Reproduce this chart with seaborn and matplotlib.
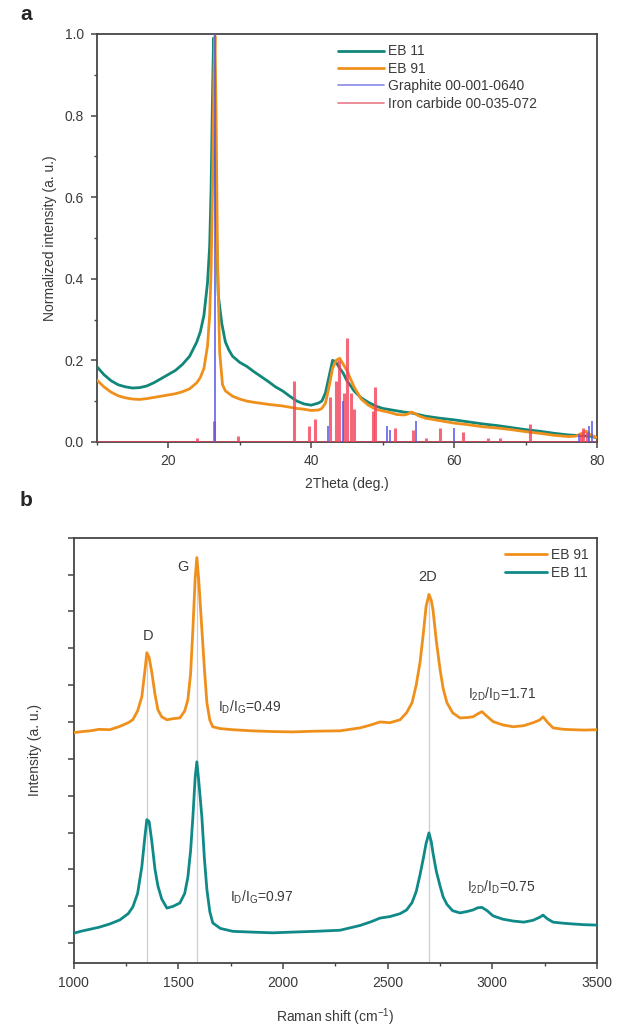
import numpy as np
import pandas as pd
import matplotlib
matplotlib.use("Agg")
import matplotlib.pyplot as plt
from matplotlib.ticker import MultipleLocator, NullFormatter, FormatStrFormatter
from matplotlib.lines import Line2D
import seaborn as sns

# ---------------- XRD (panel a) ----------------
two_theta_eb11 = [10, 11, 12, 13, 14, 15, 16, 17, 18, 19,
                  20, 21, 22, 23, 24, 24.5, 25, 25.5, 25.8, 26.0,
                  26.2, 26.35, 26.5, 26.7, 27.0, 27.5, 28, 28.5, 29, 30,
                  31, 32, 33, 34, 35, 36, 37, 38, 39, 40,
                  41, 41.5, 42, 42.5, 43, 43.5, 44, 44.5, 45, 45.5,
                  46, 47, 48, 49, 50, 51, 52, 53, 54, 55,
                  56, 58, 60, 62, 64, 66, 68, 70, 72, 74,
                  76, 78, 79, 80]
xrd_eb11 = [0.185, 0.165, 0.15, 0.14, 0.135, 0.132, 0.133, 0.137, 0.145, 0.155,
            0.165, 0.175, 0.19, 0.21, 0.245, 0.27, 0.31, 0.39, 0.48, 0.62,
            0.85, 0.99, 0.85, 0.55, 0.36, 0.29, 0.245, 0.225, 0.21, 0.195,
            0.185, 0.172, 0.16, 0.148, 0.135, 0.125, 0.112, 0.1, 0.093, 0.09,
            0.095, 0.1, 0.12, 0.16, 0.2, 0.195, 0.18, 0.168, 0.15, 0.138,
            0.125, 0.108, 0.097, 0.088, 0.082, 0.079, 0.076, 0.073, 0.071, 0.067,
            0.063, 0.058, 0.054, 0.049, 0.044, 0.04, 0.035, 0.03, 0.026, 0.021,
            0.017, 0.015, 0.014, 0.01]

two_theta_eb91 = [10, 11, 12, 13, 14, 15, 16, 17, 18, 19,
                  20, 21, 22, 23, 24, 24.5, 25, 25.5, 25.8, 26.0,
                  26.2, 26.4, 26.55, 26.7, 26.9, 27.2, 27.6, 28, 29, 30,
                  31, 32, 34, 36, 37, 38, 39, 40, 41, 41.5,
                  42, 42.5, 43, 43.5, 44, 44.5, 45, 45.5, 46, 47,
                  48, 49, 50, 51, 52, 53, 53.5, 54, 54.5, 55,
                  56, 58, 60, 62, 64, 66, 68, 70, 72, 74,
                  76, 77, 78, 78.5, 79, 80]
xrd_eb91 = [0.152, 0.135, 0.122, 0.113, 0.108, 0.105, 0.104, 0.106, 0.109, 0.112,
            0.115, 0.118, 0.123, 0.13, 0.145, 0.158, 0.18, 0.235, 0.31, 0.42,
            0.62, 0.9, 0.995, 0.8, 0.45, 0.22, 0.14, 0.125, 0.112, 0.105,
            0.1, 0.097, 0.092, 0.088, 0.085, 0.082, 0.08, 0.077, 0.078, 0.082,
            0.095, 0.135, 0.18, 0.2, 0.205, 0.19, 0.175, 0.155, 0.135, 0.105,
            0.09, 0.08, 0.076, 0.072, 0.067, 0.066, 0.068, 0.073, 0.07, 0.064,
            0.058, 0.052, 0.046, 0.042, 0.037, 0.034, 0.03, 0.025, 0.021, 0.016,
            0.013, 0.014, 0.022, 0.026, 0.018, 0.01]

# Reference patterns (stick positions and relative intensities)
graphite_pos = [26.55, 42.3, 44.5, 50.6, 51.0, 54.7, 60.0, 77.5, 78.9, 79.3]
graphite_int = [1.0, 0.04, 0.1, 0.04, 0.03, 0.05, 0.035, 0.02, 0.04, 0.05]
fe3c_pos = [24.0, 26.4, 29.8, 37.6, 39.7, 40.5, 42.6, 43.5, 43.9, 44.6,
            45.0, 45.6, 46.0, 48.6, 48.9, 51.7, 54.3, 56.0, 58.0, 61.3,
            64.8, 66.4, 70.6, 77.8, 78.1, 78.6]
fe3c_int = [0.01, 0.05, 0.015, 0.15, 0.04, 0.055, 0.11, 0.15, 0.2, 0.12,
            0.255, 0.12, 0.08, 0.075, 0.135, 0.035, 0.03, 0.01, 0.035, 0.025,
            0.01, 0.01, 0.045, 0.02, 0.035, 0.025]

xrd_labels = ["EB 11", "EB 91", "Graphite 00-001-0640", "Iron carbide 00-035-072"]

# ---------------- Raman (panel b) ----------------
raman_shift = [1000, 1040, 1080, 1120, 1172, 1220, 1260, 1282, 1305, 1325,
               1340, 1349, 1360, 1373, 1388, 1402, 1420, 1445, 1475, 1507,
               1530, 1545, 1558, 1569, 1580, 1588, 1597, 1612, 1624, 1636,
               1650, 1664, 1700, 1760, 1850, 1950, 2047, 2150, 2272, 2368,
               2420, 2463, 2510, 2559, 2590, 2616, 2636, 2654, 2670, 2683,
               2697, 2708, 2716, 2732, 2750, 2765, 2783, 2810, 2845, 2880,
               2907, 2930, 2950, 2975, 3003, 3050, 3099, 3150, 3194, 3225,
               3242, 3265, 3290, 3340, 3385, 3440, 3500]
raman_eb91 = [5.71, 5.74, 5.76, 5.80, 5.79, 5.88, 5.98, 6.06, 6.30, 6.68,
              7.40, 7.88, 7.75, 7.34, 6.75, 6.33, 6.14, 6.06, 6.09, 6.11,
              6.30, 6.60, 7.30, 8.51, 9.90, 10.46, 9.85, 8.51, 7.45, 6.52,
              6.05, 5.87, 5.82, 5.79, 5.76, 5.74, 5.73, 5.75, 5.76, 5.84,
              5.92, 6.00, 5.98, 6.06, 6.25, 6.52, 7.00, 7.61, 8.40, 9.13,
              9.46, 9.30, 9.05, 8.20, 7.42, 6.90, 6.52, 6.25, 6.11, 6.12,
              6.14, 6.22, 6.28, 6.15, 6.01, 5.92, 5.87, 5.90, 5.98, 6.05,
              6.14, 5.98, 5.84, 5.80, 5.79, 5.78, 5.79]
raman_eb11 = [0.27, 0.33, 0.38, 0.43, 0.52, 0.63, 0.80, 0.98, 1.35, 2.07,
              2.90, 3.35, 3.30, 2.75, 2.00, 1.55, 1.20, 0.95, 1.00, 1.09,
              1.35, 1.79, 2.50, 3.42, 4.50, 4.92, 4.40, 3.42, 2.30, 1.45,
              0.85, 0.55, 0.40, 0.32, 0.30, 0.28, 0.30, 0.32, 0.35, 0.48,
              0.58, 0.68, 0.72, 0.80, 0.90, 1.10, 1.40, 1.85, 2.30, 2.70,
              2.99, 2.75, 2.45, 1.95, 1.55, 1.25, 1.05, 0.88, 0.82, 0.86,
              0.90, 0.96, 0.97, 0.88, 0.74, 0.65, 0.60, 0.57, 0.62, 0.70,
              0.76, 0.65, 0.57, 0.54, 0.52, 0.50, 0.49]

band_names = ["D", "G", "2D"]
band_pos = [1349, 1588, 2697]
ratio_text_eb91 = ["I$_\\mathregular{D}$/I$_\\mathregular{G}$=0.49",
                   "I$_\\mathregular{2D}$/I$_\\mathregular{D}$=1.71"]
ratio_text_eb11 = ["I$_\\mathregular{D}$/I$_\\mathregular{G}$=0.97",
                   "I$_\\mathregular{2D}$/I$_\\mathregular{D}$=0.75"]

# ---------------- styling ----------------
sns.set_style("ticks")
plt.rcParams["font.family"] = ["Liberation Sans", "DejaVu Sans"]
plt.rcParams["mathtext.fontset"] = "custom"
plt.rcParams["mathtext.rm"] = "Liberation Sans"
plt.rcParams["mathtext.it"] = "Liberation Sans"

TEAL = "#11877a"
TEAL_R = "#108a88"
ORANGE = "#f0901c"
BLUE = "#5656ee"
RED = "#f0445a"
TXT = "#3a3a3a"
SPINE = "#454545"

fig = plt.figure(figsize=(6.2, 10.3), dpi=100)
ax1 = fig.add_axes([0.156, 0.571, 0.807, 0.396])
ax2 = fig.add_axes([0.119, 0.065, 0.844, 0.413])


def style_axes(ax):
    for sp in ax.spines.values():
        sp.set_color(SPINE)
        sp.set_linewidth(1.3)
    ax.tick_params(which="both", direction="out", color=SPINE, labelcolor=TXT,
                   labelsize=10, top=False, right=False, pad=5)
    ax.tick_params(which="major", length=4, width=1.1)
    ax.tick_params(which="minor", length=2.5, width=1.0)


# panel a: XRD patterns
df11 = pd.DataFrame({"two_theta": two_theta_eb11, "intensity": xrd_eb11})
df91 = pd.DataFrame({"two_theta": two_theta_eb91, "intensity": xrd_eb91})
sns.lineplot(data=df11, x="two_theta", y="intensity", color=TEAL, lw=2.0,
             estimator=None, ax=ax1, zorder=3)
sns.lineplot(data=df91, x="two_theta", y="intensity", color=ORANGE, lw=2.0,
             estimator=None, ax=ax1, zorder=3)
ax1.axhline(0.0, color=RED, lw=1.4, alpha=0.7, zorder=4)
ax1.vlines(fe3c_pos, 0, fe3c_int, colors=RED, lw=2.2, alpha=0.8, zorder=4)
ax1.vlines(graphite_pos, 0, graphite_int, colors=BLUE, lw=1.3, alpha=0.85, zorder=5)

ax1.set_xlim(10, 80)
ax1.set_ylim(0, 1.0)
ax1.xaxis.set_major_locator(MultipleLocator(20))
ax1.xaxis.set_minor_locator(MultipleLocator(10))
ax1.yaxis.set_major_locator(MultipleLocator(0.2))
ax1.yaxis.set_minor_locator(MultipleLocator(0.1))
ax1.yaxis.set_major_formatter(FormatStrFormatter("%.1f"))
ax1.set_xlabel("2Theta (deg.)", fontsize=10, color=TXT, labelpad=6)
ax1.set_ylabel("Normalized intensity (a. u.)", fontsize=10, color=TXT, labelpad=6)
style_axes(ax1)

handles_a = [Line2D([], [], color=TEAL, lw=2.0),
             Line2D([], [], color=ORANGE, lw=2.0),
             Line2D([], [], color="#8a8ae8", lw=1.2),
             Line2D([], [], color="#e87a88", lw=1.2)]
leg = ax1.legend(handles_a, xrd_labels, loc="upper left", bbox_to_anchor=(0.465, 0.995),
                 frameon=False, fontsize=10, handlelength=3.3, handletextpad=0.3,
                 labelspacing=0.25, borderaxespad=0.2)
for t in leg.get_texts():
    t.set_color(TXT)

# panel b: Raman spectra
dfr = pd.DataFrame({"shift": raman_shift, "EB 91": raman_eb91, "EB 11": raman_eb11})
peak91 = dict(zip(raman_shift, raman_eb91))
ax2.vlines(band_pos, -0.54, [peak91[p] for p in band_pos], colors="#c9ceda",
           lw=0.9, zorder=1)
sns.lineplot(data=dfr, x="shift", y="EB 91", color=ORANGE, lw=2.0,
             estimator=None, ax=ax2, zorder=3, label="EB 91")
sns.lineplot(data=dfr, x="shift", y="EB 11", color=TEAL_R, lw=2.0,
             estimator=None, ax=ax2, zorder=3, label="EB 11")

ax2.set_xlim(1000, 3500)
ax2.set_ylim(-0.54, 11.0)
ax2.xaxis.set_major_locator(MultipleLocator(500))
ax2.xaxis.set_minor_locator(MultipleLocator(250))
ax2.yaxis.set_major_locator(MultipleLocator(1))
ax2.yaxis.set_major_formatter(NullFormatter())
ax2.set_xlabel("Raman shift (cm$^{-1}$)", fontsize=10, color=TXT, labelpad=12)
ax2.set_ylabel("Intensity (a. u.)", fontsize=10, color=TXT, labelpad=14)
style_axes(ax2)

band_label_xy = [(1354, 8.32), (1521, 10.2), (2692, 9.92)]
for name, (bx, by) in zip(band_names, band_label_xy):
    ax2.text(bx, by, name, ha="center", va="center", fontsize=10.5, color=TXT)

ax2.text(1688, 6.39, ratio_text_eb91[0], ha="left", va="center", fontsize=10, color=TXT)
ax2.text(2883, 6.74, ratio_text_eb91[1], ha="left", va="center", fontsize=10, color=TXT)
ax2.text(1746, 1.25, ratio_text_eb11[0], ha="left", va="center", fontsize=10, color=TXT)
ax2.text(2879, 1.52, ratio_text_eb11[1], ha="left", va="center", fontsize=10, color=TXT)

leg2 = ax2.legend(loc="upper right", bbox_to_anchor=(1.0, 0.995), frameon=False,
                  fontsize=10, handlelength=3.0, handletextpad=0.3,
                  labelspacing=0.25, borderaxespad=0.2)
for t in leg2.get_texts():
    t.set_color(TXT)

fig.text(20 / 620, 1 - 15 / 1030, "a", fontsize=15, fontweight="bold", va="center")
fig.text(20 / 620, 1 - 500 / 1030, "b", fontsize=15, fontweight="bold", va="center")

fig.savefig("out.png", dpi=100)
